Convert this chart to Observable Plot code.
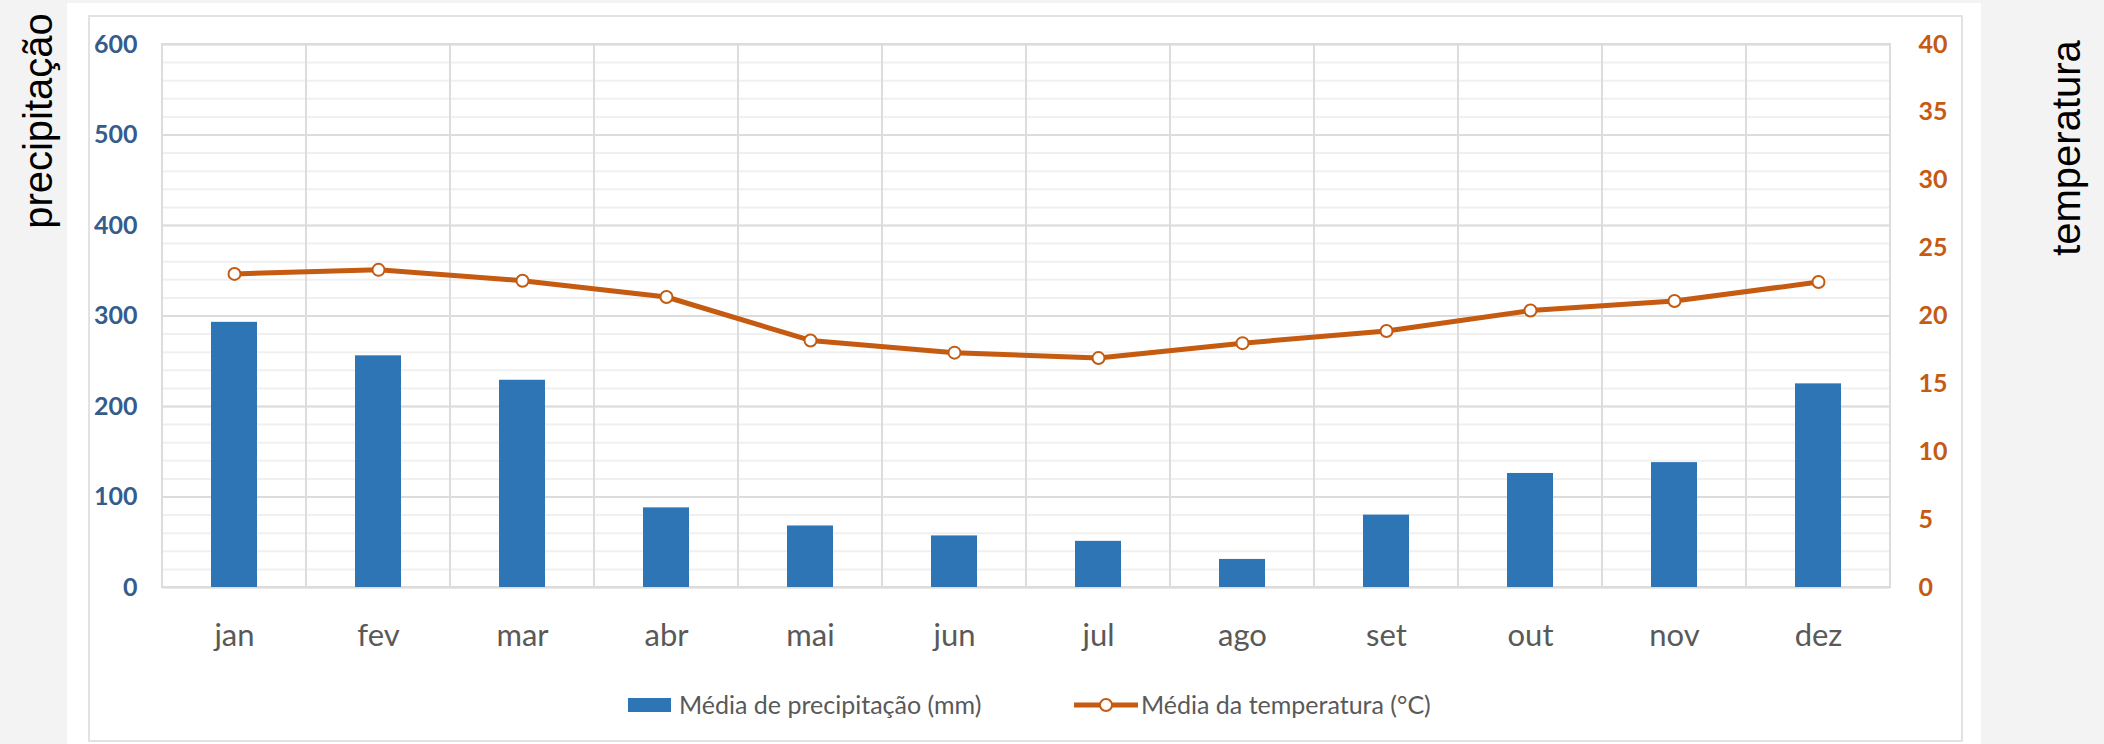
<!DOCTYPE html>
<html>
<head>
<meta charset="utf-8">
<script src="https://cdn.jsdelivr.net/npm/d3@7"></script>
<script src="https://cdn.jsdelivr.net/npm/@observablehq/plot@0.6"></script>
<style>
html, body { margin: 0; padding: 0; background: #f3f3f3; }
#wrap { position: relative; width: 2104px; height: 744px; overflow: hidden; background: #f3f3f3; }
#panel { position: absolute; left: 67px; top: 3px; width: 1914px; height: 741px; background: #ffffff; }
#border { position: absolute; left: 88px; top: 15px; width: 1875px; height: 727px; border: 2px solid #e2e2e2; box-sizing: border-box; }
#chart { position: absolute; left: 0; top: 0; }
.side { position: absolute; font-family: "Liberation Sans", Arial, sans-serif; font-size: 40px; color: #000; white-space: nowrap; transform: translate(-50%, -50%) rotate(-90deg); }
.leg { position: absolute; font-family: Lato, sans-serif; font-size: 25px; color: #595959; white-space: nowrap; line-height: 1; }
</style>
</head>
<body>
<div id="wrap">
  <div id="panel"></div>
  <div id="border"></div>
  <div id="chart"></div>
  <div class="side" style="left:38px; top:121px;">precipitação</div>
  <div class="side" style="left:2066px; top:148px;">temperatura</div>
  <div id="legend"></div>
</div>
<script>
// ---- data ----
const months = ["jan", "fev", "mar", "abr", "mai", "jun", "jul", "ago", "set", "out", "nov", "dez"];
const precipitation = [293, 256, 229, 88, 68, 57, 51, 31, 80, 126, 138, 225];
const temperature = [23.1, 23.4, 22.6, 21.4, 18.2, 17.3, 16.9, 18.0, 18.9, 20.4, 21.1, 22.5];
const precipTicks = [0, 100, 200, 300, 400, 500, 600];
const tempTicks = [0, 5, 10, 15, 20, 25, 30, 35, 40];
const seriesNames = ["Média de precipitação (mm)", "Média da temperatura (°C)"];

const blue = "#2E75B6";
const orange = "#C55A11";
const ratio = precipTicks[precipTicks.length - 1] / tempTicks[tempTicks.length - 1];

const data = months.map((m, i) => ({month: m, precip: precipitation[i], temp: temperature[i]}));
const minorTicks = d3.range(0, 601, 20);

const chart = Plot.plot({
  width: 2104,
  height: 744,
  marginLeft: 162,
  marginRight: 214,
  marginTop: 44,
  marginBottom: 157,
  style: {background: "transparent", fontFamily: "Lato, sans-serif", overflow: "visible"},
  x: {domain: months, padding: 0, axis: null},
  y: {domain: [0, 600], axis: null},
  marks: [
    Plot.ruleY(minorTicks, {stroke: "#f0f0f0", strokeWidth: 2}),
    Plot.ruleY(precipTicks, {stroke: "#dcdcdc", strokeWidth: 2}),
    Plot.cell(months, {x: d => d, fill: "none", stroke: "#dcdcdc", strokeWidth: 2, inset: 0}),
    Plot.barY(data, {x: "month", y: "precip", fill: blue, insetLeft: 49, insetRight: 49}),
    Plot.line(data, {x: "month", y: d => d.temp * ratio, stroke: orange, strokeWidth: 5}),
    Plot.dot(data, {x: "month", y: d => d.temp * ratio, r: 6, fill: "white", stroke: orange, strokeWidth: 2}),
    Plot.axisY({anchor: "left", ticks: precipTicks, tickSize: 0, tickPadding: 25, label: null,
      color: "#345C8C", fontSize: 25, fontWeight: "bold"}),
    Plot.axisY({anchor: "right", ticks: tempTicks.map(t => t * ratio), tickFormat: d => String(d / ratio),
      tickSize: 0, tickPadding: 28, label: null, color: orange, fontSize: 25, fontWeight: "bold"}),
    Plot.axisX({tickSize: 0, tickPadding: 36, label: null, color: "#595959", fontSize: 31})
  ]
});
document.getElementById("chart").appendChild(chart);

// ---- legend ----
const legend = document.getElementById("legend");
legend.innerHTML = `
  <div style="position:absolute; left:628px; top:698px; width:43px; height:14px; background:${blue};"></div>
  <div class="leg" style="left:679px; top:692px;">${seriesNames[0]}</div>
  <svg style="position:absolute; left:1072px; top:693px;" width="70" height="24">
    <line x1="2" x2="66" y1="12" y2="12" stroke="${orange}" stroke-width="5"></line>
    <circle cx="34" cy="12" r="6" fill="white" stroke="${orange}" stroke-width="2"></circle>
  </svg>
  <div class="leg" style="left:1141px; top:692px;">${seriesNames[1]}</div>
`;
</script>
</body>
</html>
